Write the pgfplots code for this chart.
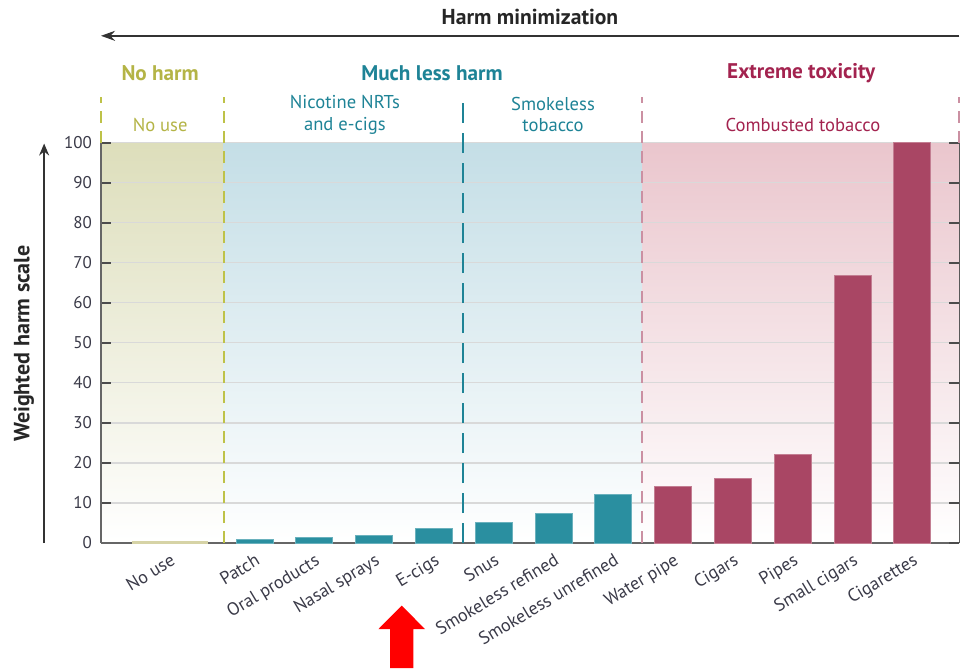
\documentclass[border=0pt]{standalone}
\usepackage{pgfplots}
\pgfplotsset{compat=1.18}
\usepackage{fontspec}
\setmainfont{PT Sans}
\usetikzlibrary{arrows.meta}
\definecolor{tealbar}{HTML}{2A8FA0}
\definecolor{crimbar}{HTML}{A94664}
\definecolor{olivetxt}{HTML}{B4B446}
\definecolor{olivedash}{HTML}{BEC248}
\definecolor{tealtxt}{HTML}{1E8396}
\definecolor{crimtxt}{HTML}{A3234F}
\definecolor{oliveBG}{HTML}{DDDEBB}
\definecolor{blueBG}{HTML}{C4DEE6}
\definecolor{pinkBG}{HTML}{EAC6CD}
\definecolor{txt}{HTML}{3A3A48}
\definecolor{nouse}{HTML}{D6D3A6}
\begin{document}
\begin{tikzpicture}
\begin{axis}[
  set layers,
  scale only axis, width=429.15pt, height=200.15pt,
  xmin=-1.569, xmax=12.784, ymin=0, ymax=100,
  clip=false,
  axis line style={draw=gray!80!black, line width=0.6pt},
  axis x line*=bottom, axis y line*=left,
  ytick={0,10,...,100},
  tick align=inside,
  major tick length=5pt,
  ytick style={draw=gray!60!black, line width=0.8pt},
  xtick style={draw=none},
  ymajorgrids, grid style={draw=gray!30, line width=0.6pt},
  /pgf/number format/assume math mode=true,
  yticklabel style={font=\fontsize{8.5}{10}\selectfont, text=txt, xshift=-1pt},
  xtick={-0.415,1,2,3,4,5,6,7,8,9,10,11,12},
  xticklabels={No use, Patch, Oral products, Nasal sprays, E-cigs, Snus, Smokeless refined, Smokeless unrefined, Water pipe, Cigars, Pipes, Small cigars, Cigarettes},
  xticklabel style={rotate=31, anchor=north east, font=\fontsize{9}{10.5}\selectfont, text=txt, inner sep=1pt, yshift=-3pt, xshift=-1.5pt},
]
\begin{pgfonlayer}{axis background}
  \shade[top color=oliveBG, bottom color=white] (axis cs:-1.569,0) rectangle (axis cs:0.48,100);
  \shade[top color=blueBG, bottom color=white] (axis cs:0.48,0) rectangle (axis cs:7.48,100);
  \shade[top color=pinkBG, bottom color=white] (axis cs:7.48,0) rectangle (axis cs:12.784,100);
\end{pgfonlayer}
% no use
\addplot[ybar, bar width=37.5pt, fill=nouse, draw=nouse] coordinates {(-0.415,0.4)};
% nicotine / smokeless
\addplot[ybar, bar width=18.5pt, fill=tealbar, draw=tealbar!70!white, line width=0.5pt] coordinates {
  (1,1.0) (2,1.5) (3,1.9) (4,3.6) (5,5.1) (6,7.3) (7,12.2)};
% combusted
\addplot[ybar, bar width=18.5pt, fill=crimbar, draw=crimbar!70!white, line width=0.5pt] coordinates {
  (8,14.0) (9,16.1) (10,22.2) (11,66.8) (12,100)};
% right axis line and ticks
\draw[gray!70!black, line width=0.6pt] (axis cs:12.784,0) -- (axis cs:12.784,100);
\pgfplotsinvokeforeach{0,10,20,30,40,50,60,70,80,90,100}{
  \draw[gray!60!black, line width=0.8pt] (axis cs:12.784,#1) -- (axis cs:12.617,#1);
}
% dividers
\draw[olivedash, dash pattern=on 6pt off 4pt, line width=1pt] (axis cs:0.48,0) -- (axis cs:0.48,111.5);
\draw[olivedash, dash pattern=on 6pt off 4pt, line width=1pt] (axis cs:-1.569,100) -- (axis cs:-1.569,111.5);
\draw[tealtxt, dash pattern=on 10pt off 5pt, line width=0.75pt] (axis cs:4.485,0) -- (axis cs:4.485,111.5);
\draw[crimbar!60!white, dash pattern=on 6pt off 4pt, line width=0.9pt] (axis cs:7.48,0) -- (axis cs:7.48,111.5);
\draw[crimbar!60!white, dash pattern=on 6pt off 4pt, line width=0.9pt] (axis cs:12.784,100) -- (axis cs:12.784,111.5);
% headers
\node[font=\bfseries\fontsize{10.8}{12}\selectfont, text=black!85] at (axis cs:5.605,131.4) {Harm minimization};
\draw[-{Stealth[length=7pt,width=5pt]}, black!80, line width=0.9pt] (axis cs:12.784,126.7) -- (axis cs:-1.569,126.7);
\node[font=\bfseries\fontsize{10.6}{12}\selectfont, text=olivetxt] at (axis cs:-0.58,117.3) {No harm};
\node[font=\bfseries\fontsize{10.6}{12}\selectfont, text=tealtxt] at (axis cs:3.966,117.3) {Much less harm};
\node[font=\bfseries\fontsize{10.6}{12}\selectfont, text=crimtxt] at (axis cs:10.14,117.3) {Extreme toxicity};
\node[font=\fontsize{9.3}{10.8}\selectfont, text=olivetxt] at (axis cs:-0.58,104.3) {No use};
\node[font=\fontsize{9.3}{10.8}\selectfont, text=tealtxt, align=center] at (axis cs:2.51,107.0) {Nicotine NRTs\\and e-cigs};
\node[font=\fontsize{9.3}{10.8}\selectfont, text=tealtxt, align=center] at (axis cs:5.99,107.0) {Smokeless\\tobacco};
\node[font=\fontsize{9.3}{10.8}\selectfont, text=crimtxt] at (axis cs:10.17,104.3) {Combusted tobacco};
% y label and arrow
\draw[-{Stealth[length=6pt,width=5pt]}, black!80, line width=0.9pt] (axis cs:-2.52,0) -- (axis cs:-2.52,99.8);
\node[font=\bfseries\fontsize{11}{12}\selectfont, text=black!85, rotate=90] at (axis cs:-2.86,49.8) {Weighted harm scale};
% red arrow
\fill[red] (axis cs:3.460,-15.64) -- (axis cs:3.850,-21.52) -- (axis cs:3.654,-21.52) -- (axis cs:3.654,-31.25)
  -- (axis cs:3.264,-31.25) -- (axis cs:3.264,-21.52) -- (axis cs:3.069,-21.52) -- cycle;
% bounding box
\path (axis cs:-3.258,-31.48) rectangle (axis cs:12.846,135.65);
\end{axis}
\end{tikzpicture}
\end{document}
